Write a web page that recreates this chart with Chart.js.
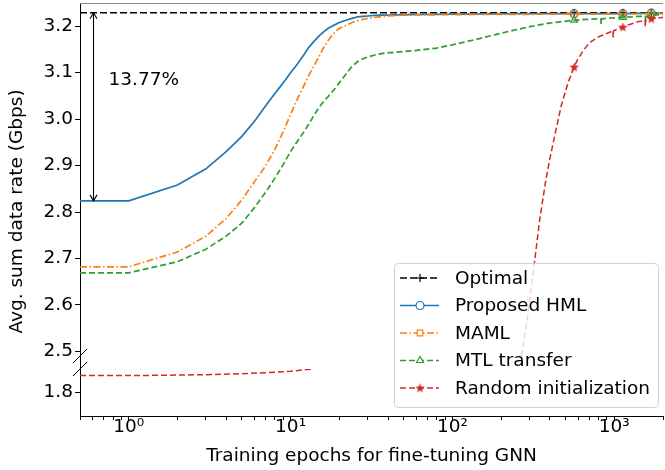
<!DOCTYPE html>
<html>
<head>
<meta charset="utf-8">
<script src="https://cdn.jsdelivr.net/npm/chart.js@4.4.0/dist/chart.umd.min.js"></script>
<style>
  html, body { margin: 0; padding: 0; background: #fff; }
  canvas { display: block; }
</style>
</head>
<body>
<canvas id="chart" width="665" height="470"></canvas>
<script>
// values
let markEpochs = [565, 1130, 1695];

let optimalEpochs = [0.5, 565, 1130, 1695, 2000];
let optimalRate = [3.229, 3.229, 3.229, 3.229, 3.229];

let hmlEpochs = [0.5, 1, 2, 3, 4, 5, 6, 7, 8, 9, 10, 11, 12, 13, 14, 15, 16, 17, 18, 19, 20, 22, 24, 26, 28, 30, 35, 40, 50, 100, 300, 565, 1130, 1695, 2000];
let hmlRate = [2.824, 2.824, 2.858, 2.893, 2.930, 2.963, 2.996, 3.028, 3.055, 3.078, 3.100, 3.118, 3.137, 3.155, 3.168, 3.179, 3.188, 3.195, 3.200, 3.204, 3.208, 3.213, 3.217, 3.220, 3.221, 3.222, 3.224, 3.224, 3.225, 3.226, 3.227, 3.227, 3.227, 3.228, 3.228];

let mamlEpochs = [0.5, 1, 2, 3, 4, 5, 6, 7, 8, 9, 10, 11, 12, 13, 14, 15, 16, 17, 18, 19, 20, 22, 24, 26, 28, 30, 35, 40, 50, 100, 500, 565, 1130, 1695, 2000];
let mamlRate = [2.682, 2.682, 2.714, 2.748, 2.786, 2.826, 2.866, 2.899, 2.935, 2.973, 3.010, 3.043, 3.070, 3.095, 3.116, 3.135, 3.154, 3.168, 3.180, 3.189, 3.195, 3.202, 3.208, 3.212, 3.215, 3.217, 3.220, 3.222, 3.224, 3.225, 3.226, 3.226, 3.226, 3.227, 3.227];

let mtlEpochs = [0.5, 1, 2, 3, 4, 5, 6, 7, 8, 9, 10, 11, 12, 13, 14, 15, 16, 17, 18, 19, 20, 22, 24, 26, 28, 30, 34, 38, 45, 60, 80, 97, 120, 149, 190, 237, 300, 385, 450, 565, 700, 825, 831, 837, 1000, 1130, 1400, 1555, 1560, 1565, 1695, 2000];
let mtlRate = [2.669, 2.669, 2.693, 2.720, 2.748, 2.776, 2.810, 2.842, 2.873, 2.902, 2.930, 2.952, 2.971, 2.990, 3.009, 3.025, 3.038, 3.048, 3.058, 3.068, 3.078, 3.097, 3.114, 3.124, 3.130, 3.134, 3.139, 3.142, 3.144, 3.148, 3.153, 3.159, 3.166, 3.174, 3.183, 3.191, 3.199, 3.206, 3.209, 3.213, 3.215, 3.216, 3.205, 3.216, 3.218, 3.219, 3.221, 3.221, 3.210, 3.221, 3.223, 3.226];

// random init: lower panel part, then upper panel part
let randLowEpochs = [0.5, 1, 2, 3, 5, 8, 10, 12, 13.7];
let randLowRate = [1.836, 1.836, 1.837, 1.838, 1.840, 1.843, 1.845, 1.848, 1.850];
let randHighEpochs = [267, 290, 321, 345, 375, 400, 432, 471, 520, 565, 591, 650, 711, 800, 906, 980, 985, 990, 1089, 1130, 1200, 1300, 1387, 1550, 1555, 1560, 1695, 1850, 2000];
let randHighRate = [2.49, 2.57, 2.69, 2.78, 2.862, 2.915, 2.97, 3.03, 3.08, 3.112, 3.127, 3.15, 3.166, 3.177, 3.185, 3.19, 3.176, 3.19, 3.196, 3.198, 3.202, 3.206, 3.209, 3.213, 3.198, 3.213, 3.216, 3.218, 3.219];

let upperTicks = [2.5, 2.6, 2.7, 2.8, 2.9, 3.0, 3.1, 3.2];
let lowerTicks = [1.8];
let xMajorTicks = [1, 10, 100, 1000];
let xTickLabels = ["10\u2070", "10\u00b9", "10\u00b2", "10\u00b3"];

let gapText = "13.77%";
let fontFam = "'DejaVu Sans', sans-serif";
let fs = 18.5;

let pts = (xs, ys) => xs.map((x, i) => ({ x: x, y: ys[i] }));

let starMarker = (color) => {
	let c = document.createElement("canvas");
	c.width = 11;
	c.height = 11;
	let g = c.getContext("2d");
	g.beginPath();
	for (let i = 0; i < 10; i++) {
		let r = i % 2 ? 2.1 : 5;
		let a = -Math.PI / 2 + (i * Math.PI) / 5;
		g.lineTo(5.5 + r * Math.cos(a), 5.8 + r * Math.sin(a));
	}
	g.closePath();
	g.fillStyle = color;
	g.fill();
	return c;
};

let series = [
	{ label: "Optimal", color: "#000000", dash: [7, 3], style: "cross", width: 1.4 },
	{ label: "Proposed HML", color: "#1f77b4", dash: [], style: "circle", width: 1.7 },
	{ label: "MAML", color: "#ff7f0e", dash: [7, 2.5, 1.5, 2.5], style: "rect", width: 1.7 },
	{ label: "MTL transfer", color: "#2ca02c", dash: [6, 3], style: "triangle", width: 1.7 },
	{ label: "Random initialization", color: "#d62728", dash: [6, 3], style: starMarker("#d62728"), width: 1.5 },
];

let makeSet = (s, data, axis) => ({
	label: s.label,
	data: data,
	yAxisID: axis,
	borderColor: s.color,
	backgroundColor: "rgba(0,0,0,0)",
	borderWidth: s.width,
	borderDash: s.dash,
	tension: 0,
	pointStyle: s.style,
	pointBorderColor: s.color,
	pointBackgroundColor: "rgba(0,0,0,0)",
	pointBorderWidth: 1.2,
	pointRadius: (c) => (c.raw && markEpochs.includes(c.raw.x) ? 4 : 0),
});

let datasets = [
	makeSet(series[4], pts(randLowEpochs, randLowRate), "yLow"),
	makeSet(series[4], pts(randHighEpochs, randHighRate), "y"),
	makeSet(series[3], pts(mtlEpochs, mtlRate), "y"),
	makeSet(series[2], pts(mamlEpochs, mamlRate), "y"),
	makeSet(series[1], pts(hmlEpochs, hmlRate), "y"),
	makeSet(series[0], pts(optimalEpochs, optimalRate), "y"),
];

let decorations = {
	id: "decorations",
	afterDatasetsDraw(chart) {
		let ctx = chart.ctx;
		let area = chart.chartArea;
		let x = chart.scales.x;
		let y = chart.scales.y;
		let yLow = chart.scales.yLow;
		ctx.save();
		// top spine
		ctx.strokeStyle = "#8a8a8a";
		ctx.lineWidth = 1;
		ctx.beginPath();
		ctx.moveTo(area.left, area.top + 0.5);
		ctx.lineTo(area.right, area.top + 0.5);
		ctx.stroke();

		// double arrow for the gap
		let ax = Math.round(x.getPixelForValue(0.6)) + 0.5;
		let yTop = y.getPixelForValue(optimalRate[0]);
		let yBot = y.getPixelForValue(hmlRate[0]);
		ctx.strokeStyle = "#000";
		ctx.lineWidth = 1.1;
		ctx.beginPath();
		ctx.moveTo(ax, yTop);
		ctx.lineTo(ax, yBot);
		ctx.moveTo(ax - 3.5, yTop + 6);
		ctx.lineTo(ax, yTop);
		ctx.lineTo(ax + 3.5, yTop + 6);
		ctx.moveTo(ax - 3.5, yBot - 6);
		ctx.lineTo(ax, yBot);
		ctx.lineTo(ax + 3.5, yBot - 6);
		ctx.stroke();

		ctx.fillStyle = "#000";
		ctx.font = fs + "px " + fontFam;
		ctx.textBaseline = "middle";
		ctx.textAlign = "left";
		ctx.fillText(gapText, x.getPixelForValue(0.75), y.getPixelForValue(3.084));

		// break marks on the left spine
		ctx.lineWidth = 1;
		[y.bottom, yLow.top].forEach((by) => {
			ctx.beginPath();
			ctx.moveTo(area.left - 7, by + 7);
			ctx.lineTo(area.left + 7, by - 7);
			ctx.stroke();
		});

		// y title
		ctx.translate(17, (area.top + area.bottom) / 2 + 2);
		ctx.rotate(-Math.PI / 2);
		ctx.textAlign = "center";
		ctx.fillText("Avg. sum data rate (Gbps)", 0, 0);
		ctx.restore();
	},
	afterDraw(chart) {
		let ctx = chart.ctx;
		let area = chart.chartArea;
		ctx.save();
		ctx.font = fs + "px " + fontFam;
		let textW = Math.max(...series.map((s) => ctx.measureText(s.label).width));
		let right = area.right - 5;
		let bottom = area.bottom - 9;
		let w = textW + 69;
		let h = 144;
		let left = right - w;
		let top = bottom - h;
		ctx.beginPath();
		ctx.roundRect(left + 0.5, top + 0.5, w, h, 4);
		ctx.fillStyle = "rgba(255,255,255,0.8)";
		ctx.fill();
		ctx.strokeStyle = "#d0d0d0";
		ctx.lineWidth = 1;
		ctx.stroke();
		series.forEach((s, i) => {
			let ry = top + 15 + i * 27.5;
			ctx.save();
			ctx.strokeStyle = s.color;
			ctx.lineWidth = s.width;
			ctx.setLineDash(s.dash);
			ctx.beginPath();
			ctx.moveTo(left + 6, ry);
			ctx.lineTo(left + 45, ry);
			ctx.stroke();
			ctx.setLineDash([]);
			ctx.strokeStyle = s.color;
			ctx.fillStyle = "#fff";
			ctx.lineWidth = 1.2;
			Chart.helpers.drawPoint(ctx, { pointStyle: s.style, radius: 4, rotation: 0, borderWidth: 1.2 }, left + 26, ry);
			ctx.restore();
			ctx.fillStyle = "#000";
			ctx.textBaseline = "middle";
			ctx.textAlign = "left";
			ctx.fillText(s.label, left + 61, ry + 1);
		});
		ctx.restore();
	},
};

let leftAxis = (extra) =>
	Object.assign(
		{
			type: "linear",
			position: "left",
			stack: "left",
			afterFit: (s) => {
				s.width = 80;
				s.paddingTop = 0;
				s.paddingBottom = 0;
			},
			border: { color: "#000", width: 1 },
			grid: { drawOnChartArea: false, tickLength: 5, tickColor: "#000" },
			ticks: {
				color: "#000",
				padding: 2,
				font: { size: fs, family: fontFam },
				callback: (v) => v.toFixed(1),
			},
		},
		extra
	);

let renderChart = () => {
	let canvas = document.getElementById("chart");
	new Chart(canvas, {
		type: "line",
		data: { datasets: datasets },
		options: {
			responsive: false,
			animation: false,
			devicePixelRatio: 1,
			layout: { padding: { top: 3, right: 2, left: 0, bottom: 0 } },
			plugins: { legend: { display: false }, tooltip: { enabled: false } },
			scales: {
				x: {
					type: "logarithmic",
					min: 0.5,
					max: 2000,
					afterBuildTicks: (s) => {
						let t = [];
						[0.1, 1, 10, 100, 1000].forEach((d) => {
							for (let k = 1; k < 10; k++) {
								let v = +(d * k).toPrecision(3);
								if (v >= 0.5 && v <= 2000) t.push({ value: v });
							}
						});
						s.ticks = t;
					},
					afterFit: (s) => {
						s.height = 54;
						s.paddingLeft = 0;
						s.paddingRight = 0;
					},
					border: { color: "#000", width: 1 },
					grid: { drawOnChartArea: false, tickLength: 4, tickColor: "#000" },
					ticks: {
						autoSkip: false,
						maxRotation: 0,
						color: "#000",
						padding: -4,
						font: { size: fs, family: fontFam },
						callback: (v) => {
							let i = xMajorTicks.indexOf(v);
							return i >= 0 ? xTickLabels[i] : "";
						},
					},
					title: {
						display: true,
						text: "Training epochs for fine-tuning GNN",
						color: "#000",
						font: { size: fs, family: fontFam },
						padding: { top: 0, bottom: 3 },
					},
				},
				yLow: leftAxis({
					min: 1.75,
					max: 1.85,
					stackWeight: 47,
					afterBuildTicks: (s) => {
						s.ticks = lowerTicks.map((v) => ({ value: v }));
					},
				}),
				yGap: leftAxis({
					min: 0,
					max: 1,
					stackWeight: 13,
					grid: { display: false },
					ticks: { display: false },
				}),
				y: leftAxis({
					min: 2.49,
					max: 3.25,
					stackWeight: 353,
					afterBuildTicks: (s) => {
						s.ticks = upperTicks.map((v) => ({ value: v }));
					},
				}),
			},
		},
		plugins: [decorations],
	});
};
renderChart();
</script>
</body>
</html>
